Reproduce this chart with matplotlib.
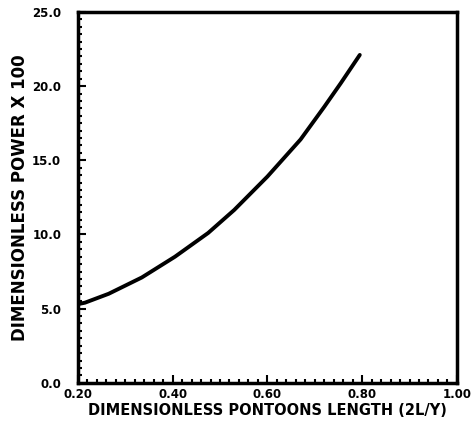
import numpy as np
import matplotlib.pyplot as plt
from matplotlib.ticker import MultipleLocator

# Кривая мощности
length = [0.20, 0.215, 0.265, 0.335, 0.405, 0.475, 0.53, 0.60, 0.67, 0.72, 0.755, 0.795]
power = [5.3, 5.4, 6.0, 7.1, 8.5, 10.1, 11.65, 13.9, 16.4, 18.6, 20.2, 22.1]

x_ticks = [0.20, 0.40, 0.60, 0.80, 1.00]
y_ticks = [0.0, 5.0, 10.0, 15.0, 20.0, 25.0]

plt.rcParams['font.family'] = ['DejaVu Sans']
plt.rcParams['font.weight'] = 'bold'

fig = plt.figure(figsize=(4.72, 4.41), dpi=100)
ax = fig.add_axes([0.165, 0.132, 0.803, 0.841])

ax.plot(length, power, color='black', linewidth=2.8, solid_capstyle='round')

ax.set_xlim(0.2, 1.0)
ax.set_ylim(0, 25)
ax.set_xticks(x_ticks)
ax.set_yticks(y_ticks)
ax.set_xticklabels([f'{v:.2f}' for v in x_ticks], fontsize=8.5, fontweight='bold')
ax.set_yticklabels([f'{v:.1f}' for v in y_ticks], fontsize=8.5, fontweight='bold')
ax.xaxis.set_minor_locator(MultipleLocator(0.02))
ax.yaxis.set_minor_locator(MultipleLocator(0.5))
ax.tick_params(which='major', direction='in', length=6, width=1.5)
ax.tick_params(which='minor', direction='in', length=3, width=1.5)
ax.tick_params(axis='x', which='major', pad=4)
ax.tick_params(axis='y', which='major', pad=12)

for s in ax.spines.values():
    s.set_linewidth(2.5)

ax.set_xlabel('DIMENSIONLESS PONTOONS LENGTH (2L/Y)', fontsize=10.5, fontweight='bold', labelpad=1)
ax.set_ylabel('DIMENSIONLESS POWER X 100', fontsize=12, fontweight='bold', labelpad=2)

fig.savefig('out.png', dpi=100)
